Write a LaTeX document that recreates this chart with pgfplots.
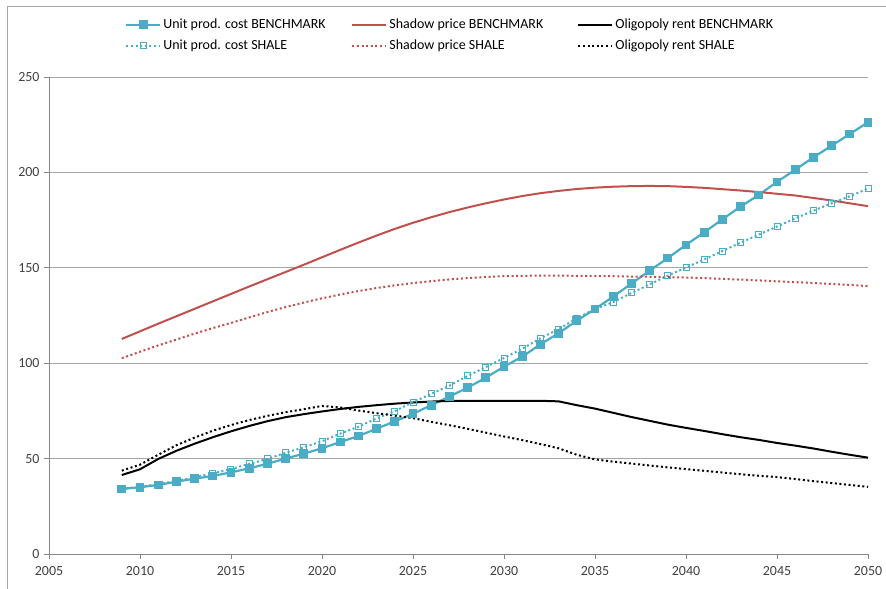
\documentclass[border=0pt]{standalone}
\usepackage{pgfplots}
\pgfplotsset{compat=1.18}
\usepackage{fontspec}
\setmainfont{Carlito}
\definecolor{cblue}{HTML}{4BACC6}
\definecolor{cred}{HTML}{C0504D}
\definecolor{cgrid}{HTML}{A6A6A6}
\definecolor{caxis}{HTML}{868686}
\definecolor{ctext}{HTML}{404040}
\begin{document}
\begin{tikzpicture}
\begin{axis}[
  scale only axis, width=819bp, height=477bp,
  xmin=2005, xmax=2050, ymin=0, ymax=250,
  xtick={2005,2010,...,2050}, ytick={0,50,...,250},
  /pgf/number format/assume math mode=true,
  xticklabel={\pgfmathprintnumber[1000 sep={}]{\tick}},
  font=\fontsize{14}{16}\selectfont,
  tick label style={text=ctext},
  xticklabel style={yshift=-4bp},
  yticklabel style={xshift=-1bp},
  axis lines=left, axis line style={-, caxis, line width=0.8bp},
  tick align=outside, major tick length=5bp,
  tick style={caxis, line width=0.8bp},
  ymajorgrids, grid style={cgrid, line width=0.8bp},
  clip=false,
  legend columns=3,
  legend cell align=left,
  legend style={draw=none, fill=none, at={(axis description cs:0.0928,1.126)}, anchor=north west,
    font=\fontsize{14}{16}\selectfont, inner sep=0pt, row sep=6bp,
    /tikz/every even column/.append style={column sep=0bp}},
  legend image code/.code={\draw[mark repeat=2,mark phase=2] plot coordinates {(0bp,0bp) (17bp,0bp) (34bp,0bp)};},
]
\addplot[cblue, line width=2.2bp, mark=square*, mark size=3.3bp, mark options={solid, fill=cblue}] coordinates {
(2009,34.1)(2010,35.0)(2011,36.2)(2012,37.9)(2013,39.5)(2014,40.9)(2015,42.8)(2016,44.9)(2017,47.3)(2018,50.0)
(2019,52.6)(2020,55.4)(2021,58.7)(2022,61.8)(2023,65.7)(2024,69.5)(2025,73.5)(2026,78.0)(2027,82.5)(2028,87.2)
(2029,92.4)(2030,98.2)(2031,103.4)(2032,109.9)(2033,115.7)(2034,122.3)(2035,128.4)(2036,134.9)(2037,141.7)(2038,148.5)
(2039,155.1)(2040,162.0)(2041,168.6)(2042,175.4)(2043,182.1)(2044,188.2)(2045,195.0)(2046,201.4)(2047,207.9)(2048,214.0)
(2049,220.1)(2050,226.3)};
\addlegendentry{\makebox[186bp][l]{Unit prod. cost BENCHMARK}}
\addplot[cred, line width=2bp] coordinates {
(2009,112.7)(2010,116.7)(2011,120.7)(2012,124.6)(2013,128.5)(2014,132.4)(2015,136.3)(2016,140.2)(2017,144.0)(2018,147.8)
(2019,151.6)(2020,155.5)(2021,159.4)(2022,163.2)(2023,166.9)(2024,170.4)(2025,173.6)(2026,176.5)(2027,179.2)(2028,181.6)
(2029,183.8)(2030,185.8)(2031,187.6)(2032,189.1)(2033,190.3)(2034,191.3)(2035,192.0)(2036,192.5)(2037,192.8)(2038,192.9)
(2039,192.8)(2040,192.4)(2041,191.9)(2042,191.2)(2043,190.5)(2044,189.7)(2045,188.8)(2046,187.9)(2047,186.6)(2048,185.3)
(2049,183.8)(2050,182.3)};
\addlegendentry{\makebox[186bp][l]{Shadow price BENCHMARK}}
\addplot[black, line width=2bp] coordinates {
(2009,41.4)(2010,44.4)(2011,49.8)(2012,54.1)(2013,57.8)(2014,61.2)(2015,64.3)(2016,67.1)(2017,69.6)(2018,71.7)
(2019,73.3)(2020,74.7)(2021,76.0)(2022,77.1)(2023,78.0)(2024,78.8)(2025,79.4)(2026,79.9)(2027,80.2)(2028,80.3)
(2029,80.3)(2030,80.3)(2031,80.3)(2032,80.3)(2033,80.0)(2034,78.0)(2035,76.2)(2036,74.0)(2037,71.8)(2038,69.8)
(2039,67.8)(2040,66.1)(2041,64.5)(2042,62.8)(2043,61.2)(2044,59.8)(2045,58.2)(2046,56.8)(2047,55.3)(2048,53.6)
(2049,52.0)(2050,50.5)};
\addlegendentry{Oligopoly rent BENCHMARK}
\addplot[cblue, line width=2bp, dash pattern=on 2bp off 2.6bp, mark=square, mark size=3bp, mark options={solid, fill=white, line width=1bp}] coordinates {
(2009,34.2)(2010,35.2)(2011,36.6)(2012,38.3)(2013,40.2)(2014,42.3)(2015,44.5)(2016,47.2)(2017,49.8)(2018,53.1)
(2019,55.9)(2020,59.1)(2021,63.1)(2022,66.7)(2023,71.1)(2024,74.9)(2025,79.6)(2026,83.9)(2027,88.2)(2028,93.3)
(2029,98.0)(2030,102.7)(2031,107.6)(2032,113.0)(2033,117.9)(2034,123.5)(2035,128.4)(2036,132.0)(2037,136.8)(2038,141.3)
(2039,145.9)(2040,150.1)(2041,154.4)(2042,158.8)(2043,163.2)(2044,167.4)(2045,171.6)(2046,175.9)(2047,179.9)(2048,183.8)
(2049,187.5)(2050,191.5)};
\addlegendentry{\makebox[186bp][l]{Unit prod. cost SHALE}}
\addplot[cred, line width=2bp, dash pattern=on 2bp off 2.6bp] coordinates {
(2009,102.6)(2010,106.0)(2011,109.3)(2012,112.4)(2013,115.5)(2014,118.4)(2015,121.1)(2016,124.0)(2017,126.8)(2018,129.4)
(2019,131.8)(2020,134.0)(2021,136.0)(2022,137.8)(2023,139.4)(2024,140.8)(2025,142.0)(2026,143.0)(2027,143.9)(2028,144.6)
(2029,145.2)(2030,145.6)(2031,145.8)(2032,145.9)(2033,145.9)(2034,145.8)(2035,145.7)(2036,145.6)(2037,145.4)(2038,145.3)
(2039,145.1)(2040,144.9)(2041,144.6)(2042,144.2)(2043,143.8)(2044,143.4)(2045,142.9)(2046,142.5)(2047,142.0)(2048,141.5)
(2049,141.0)(2050,140.4)};
\addlegendentry{\makebox[186bp][l]{Shadow price SHALE}}
\addplot[black, line width=2bp, dash pattern=on 2bp off 2.6bp] coordinates {
(2009,43.7)(2010,46.8)(2011,52.0)(2012,57.0)(2013,61.0)(2014,64.6)(2015,67.6)(2016,70.2)(2017,72.4)(2018,74.3)
(2019,75.9)(2020,77.6)(2021,76.8)(2022,75.2)(2023,73.8)(2024,72.5)(2025,71.2)(2026,69.3)(2027,67.5)(2028,65.6)
(2029,63.6)(2030,61.6)(2031,59.7)(2032,57.6)(2033,55.4)(2034,52.0)(2035,49.6)(2036,48.4)(2037,47.4)(2038,46.4)
(2039,45.4)(2040,44.5)(2041,43.6)(2042,42.7)(2043,41.8)(2044,41.0)(2045,40.3)(2046,39.3)(2047,38.2)(2048,37.2)
(2049,36.2)(2050,35.2)};
\addlegendentry{Oligopoly rent SHALE}
\end{axis}
\draw[cgrid, line width=0.8bp] (-42bp,-35bp) -- (-42bp,548bp) -- (837bp,548bp);
\pgfresetboundingbox
\path (-49bp,-35bp) rectangle (837bp,554bp);
\end{tikzpicture}
\end{document}
